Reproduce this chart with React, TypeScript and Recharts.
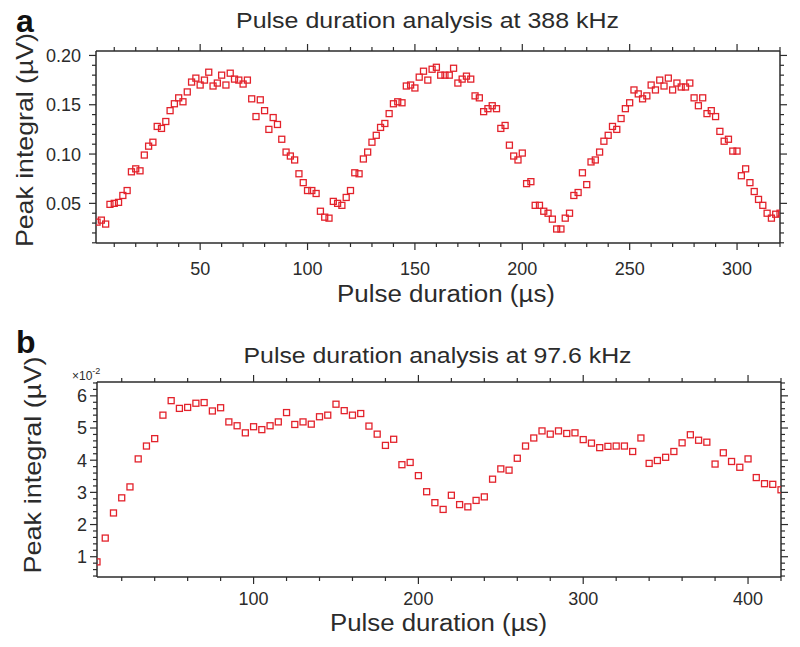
import React from 'react';
import { ScatterChart, Scatter, XAxis, YAxis } from 'recharts';

// panel a: 388 kHz, one point every 2 µs starting at 2 µs
const A_X_START = 2;
const A_X_STEP = 2;
const A_VALUES = [
    0.031, 0.033, 0.029, 0.049, 0.05, 0.051, 0.058, 0.063, 0.082, 0.085,
    0.083, 0.099, 0.108, 0.112, 0.128, 0.126, 0.133, 0.144, 0.151, 0.157,
    0.153, 0.163, 0.173, 0.177, 0.17, 0.175, 0.183, 0.169, 0.172, 0.18,
    0.17, 0.182, 0.176, 0.175, 0.171, 0.175, 0.156, 0.138, 0.155, 0.144,
    0.125, 0.137, 0.13, 0.115, 0.102, 0.098, 0.094, 0.08, 0.071, 0.063,
    0.063, 0.06, 0.042, 0.036, 0.035, 0.052, 0.05, 0.048, 0.056, 0.063,
    0.081, 0.08, 0.095, 0.102, 0.112, 0.119, 0.127, 0.131, 0.141, 0.151,
    0.153, 0.152, 0.169, 0.17, 0.167, 0.178, 0.184, 0.175, 0.186, 0.188,
    0.18, 0.18, 0.18, 0.187, 0.172, 0.176, 0.179, 0.176, 0.159, 0.157,
    0.143, 0.146, 0.149, 0.146, 0.126, 0.129, 0.109, 0.098, 0.094, 0.101,
    0.07, 0.072, 0.048, 0.048, 0.042, 0.04, 0.034, 0.024, 0.024, 0.035,
    0.04, 0.058, 0.061, 0.081, 0.069, 0.092, 0.094, 0.102, 0.113, 0.119,
    0.128, 0.125, 0.136, 0.146, 0.152, 0.165, 0.161, 0.156, 0.159, 0.17,
    0.165, 0.175, 0.169, 0.177, 0.165, 0.172, 0.168, 0.168, 0.172, 0.157,
    0.149, 0.157, 0.141, 0.144, 0.138, 0.123, 0.113, 0.115, 0.103, 0.103,
    0.078, 0.085, 0.071, 0.062, 0.054, 0.048, 0.04, 0.035, 0.039, 0.04,
];
const A_X_MAJOR = [50, 100, 150, 200, 250, 300];
const A_Y_MAJOR = [0.05, 0.1, 0.15, 0.2];

// panel b: 97.6 kHz, one point every 5 µs starting at 5 µs, values in units of 1e-2 µV
const B_X_START = 5;
const B_X_STEP = 5;
const B_VALUES = [
    0.84, 1.58, 2.36, 2.83, 3.17, 4.04, 4.44, 4.67, 5.4, 5.85,
    5.61, 5.64, 5.77, 5.79, 5.53, 5.63, 5.19, 5.07, 4.85, 5.04,
    4.95, 5.07, 5.19, 5.48, 5.11, 5.19, 5.12, 5.35, 5.4, 5.74,
    5.54, 5.4, 5.45, 5.06, 4.81, 4.46, 4.65, 3.86, 3.93, 3.52,
    3.02, 2.68, 2.47, 2.91, 2.62, 2.55, 2.75, 2.86, 3.41, 3.73,
    3.69, 4.06, 4.44, 4.69, 4.91, 4.81, 4.91, 4.83, 4.85, 4.64,
    4.53, 4.39, 4.43, 4.44, 4.44, 4.27, 4.69, 3.9, 3.99, 4.09,
    4.27, 4.54, 4.79, 4.62, 4.56, 3.88, 4.23, 3.96, 3.78, 4.04,
    3.46, 3.27, 3.25, 3.08,
];
const B_X_MAJOR = [100, 200, 300, 400];
const B_Y_MAJOR = [1, 2, 3, 4, 5, 6];

const FONT = '"Liberation Sans", Arial, Helvetica, sans-serif';
const INK = '#2b2b2b';
const RED = '#e3222b';

// sizes reserved for the axes (the plot frame sits at their inner edge)
const BOTTOM_H = 40;
const TOP_H = 20;
const LEFT_W = 60;
const RIGHT_W = 10;

// evenly spaced tick positions (minor tick marks only)
const steps = (from: number, to: number, step: number) => {
    const out: number[] = [];
    const n = Math.round((to - from) / step);
    for (let i = 0; i <= n; i++) out.push(Math.round((from + i * step) * 1000) / 1000);
    return out;
};

const toPoints = (values: number[], start: number, step: number) =>
    values.map((v, i) => ({ x: start + i * step, y: v }));

const Square = (p: any) => (
    <rect x={p.cx - 3} y={p.cy - 3} width={6} height={6} fill="none" stroke={RED} strokeWidth={1.3} />
);
const Nothing = () => <g />;

// tick mark drawn outward, label only on major values
function Tick(props: any) {
    const { x, y, payload, side, major, offset = 0, fmt, showLabel } = props;
    const v = payload.value;
    const isMajor = major.some((m: number) => Math.abs(m - v) < 1e-6);
    const len = isMajor ? 7 : 4;
    const fs = 18;
    let mark;
    let label = null;
    if (side === 'bottom') {
        mark = <line x1={x} y1={y} x2={x} y2={y + len} />;
        if (isMajor && showLabel)
            label = <text x={x} y={y + offset} textAnchor="middle">{fmt(v)}</text>;
    } else if (side === 'top') {
        mark = <line x1={x} y1={y} x2={x} y2={y - len} />;
    } else if (side === 'left') {
        mark = <line x1={x} y1={y} x2={x - len} y2={y} />;
        if (isMajor && showLabel)
            label = <text x={x - offset} y={y + fs * 0.36} textAnchor="end">{fmt(v)}</text>;
    } else {
        mark = <line x1={x} y1={y} x2={x + len} y2={y} />;
    }
    return (
        <g>
            <g stroke={INK} strokeWidth={1.2}>{mark}</g>
            {label && (
                <g fill={INK} stroke="none" fontSize={fs} fontFamily={FONT}>{label}</g>
            )}
        </g>
    );
}

interface PanelProps {
    data: { x: number; y: number }[];
    width: number;
    height: number;
    frame: { top: number; right: number; bottom: number; left: number };
    xDomain: [number, number];
    yDomain: [number, number];
    xMajor: number[];
    yMajor: number[];
    xTicks: number[];
    yTicks: number[];
    xFmt: (v: number) => string;
    yFmt: (v: number) => string;
    xOffset: number;
    yOffset: number;
}

function Panel(p: PanelProps) {
    const axisLine = { stroke: INK, strokeWidth: 1.5 };
    const common = {
        type: 'number' as const,
        allowDataOverflow: true,
        tickLine: false,
        tickSize: 0,
        tickMargin: 0,
        interval: 0 as const,
        axisLine,
    };
    const margin = {
        top: p.frame.top - TOP_H,
        right: p.frame.right - RIGHT_W,
        bottom: p.frame.bottom - BOTTOM_H,
        left: p.frame.left - LEFT_W,
    };
    return (
        <ScatterChart width={p.width} height={p.height} margin={margin}>
            <XAxis
                {...common}
                xAxisId="bottom"
                dataKey="x"
                height={BOTTOM_H}
                domain={p.xDomain}
                ticks={p.xTicks}
                tick={<Tick side="bottom" major={p.xMajor} offset={p.xOffset} fmt={p.xFmt} showLabel />}
            />
            <XAxis
                {...common}
                xAxisId="top"
                orientation="top"
                dataKey="x"
                height={TOP_H}
                domain={p.xDomain}
                ticks={p.xTicks}
                tick={<Tick side="top" major={p.xMajor} />}
            />
            <YAxis
                {...common}
                yAxisId="left"
                dataKey="y"
                width={LEFT_W}
                domain={p.yDomain}
                ticks={p.yTicks}
                tick={<Tick side="left" major={p.yMajor} offset={p.yOffset} fmt={p.yFmt} showLabel />}
            />
            <YAxis
                {...common}
                yAxisId="right"
                orientation="right"
                dataKey="y"
                width={RIGHT_W}
                domain={p.yDomain}
                ticks={p.yTicks}
                tick={<Tick side="right" major={p.yMajor} />}
            />
            <Scatter data={p.data} xAxisId="top" yAxisId="right" shape={Nothing} isAnimationActive={false} />
            <Scatter data={p.data} xAxisId="bottom" yAxisId="left" shape={Square} isAnimationActive={false} />
        </ScatterChart>
    );
}

export default function App() {
    const dataA = toPoints(A_VALUES, A_X_START, A_X_STEP);
    const dataB = toPoints(B_VALUES, B_X_START, B_X_STEP);

    return (
        <div style={{ position: 'absolute', left: 0, top: 0, width: 800, height: 647, background: '#fff' }}>
            {/* a */}
            <div style={{ position: 'absolute', left: 0, top: 0 }}>
                <Panel
                    data={dataA}
                    width={800}
                    height={320}
                    frame={{ top: 51, right: 20, bottom: 77, left: 96 }}
                    xDomain={[1.5, 320]}
                    yDomain={[0.0098, 0.2045]}
                    xMajor={A_X_MAJOR}
                    yMajor={A_Y_MAJOR}
                    xTicks={steps(10, 320, 10)}
                    yTicks={steps(0.01, 0.2, 0.01)}
                    xFmt={(v) => String(v)}
                    yFmt={(v) => v.toFixed(2)}
                    xOffset={32}
                    yOffset={15}
                />
            </div>
            {/* b */}
            <div style={{ position: 'absolute', left: 0, top: 320 }}>
                <Panel
                    data={dataB}
                    width={800}
                    height={327}
                    frame={{ top: 62, right: 19, bottom: 70, left: 97 }}
                    xDomain={[5, 420]}
                    yDomain={[0.37, 6.43]}
                    xMajor={B_X_MAJOR}
                    yMajor={B_Y_MAJOR}
                    xTicks={steps(20, 420, 20)}
                    yTicks={steps(0.4, 6.4, 0.2)}
                    xFmt={(v) => String(v)}
                    yFmt={(v) => String(v)}
                    xOffset={28}
                    yOffset={10}
                />
            </div>
            {/* titles and axis labels */}
            <svg
                width={800}
                height={647}
                style={{ position: 'absolute', left: 0, top: 0, pointerEvents: 'none' }}
                fontFamily={FONT}
                fill={INK}
            >
                <text x={16} y={32} fontSize={32} fontWeight="bold" fill="#111">a</text>
                <text x={427.5} y={28} fontSize={22} textAnchor="middle" textLength={383} lengthAdjust="spacingAndGlyphs">
                    Pulse duration analysis at 388 kHz
                </text>
                <text x={446} y={302} fontSize={23} textAnchor="middle" textLength={218} lengthAdjust="spacingAndGlyphs">
                    Pulse duration (µs)
                </text>
                <text
                    x={33}
                    y={140}
                    fontSize={24}
                    textAnchor="middle"
                    transform="rotate(-90, 33, 140)"
                    textLength={214}
                    lengthAdjust="spacingAndGlyphs"
                >
                    Peak integral (µV)
                </text>

                <text x={16} y={353} fontSize={32} fontWeight="bold" fill="#111">b</text>
                <text x={437.5} y={363} fontSize={22} textAnchor="middle" textLength={388} lengthAdjust="spacingAndGlyphs">
                    Pulse duration analysis at 97.6 kHz
                </text>
                <text x={72} y={380} fontSize={12}>
                    ×10<tspan dy={-6} fontSize={9}>-2</tspan>
                </text>
                <text x={438.5} y={631} fontSize={23} textAnchor="middle" textLength={217} lengthAdjust="spacingAndGlyphs">
                    Pulse duration (µs)
                </text>
                <text
                    x={41}
                    y={465}
                    fontSize={24}
                    textAnchor="middle"
                    transform="rotate(-90, 41, 465)"
                    textLength={217}
                    lengthAdjust="spacingAndGlyphs"
                >
                    Peak integral (µV)
                </text>
            </svg>
        </div>
    );
}
